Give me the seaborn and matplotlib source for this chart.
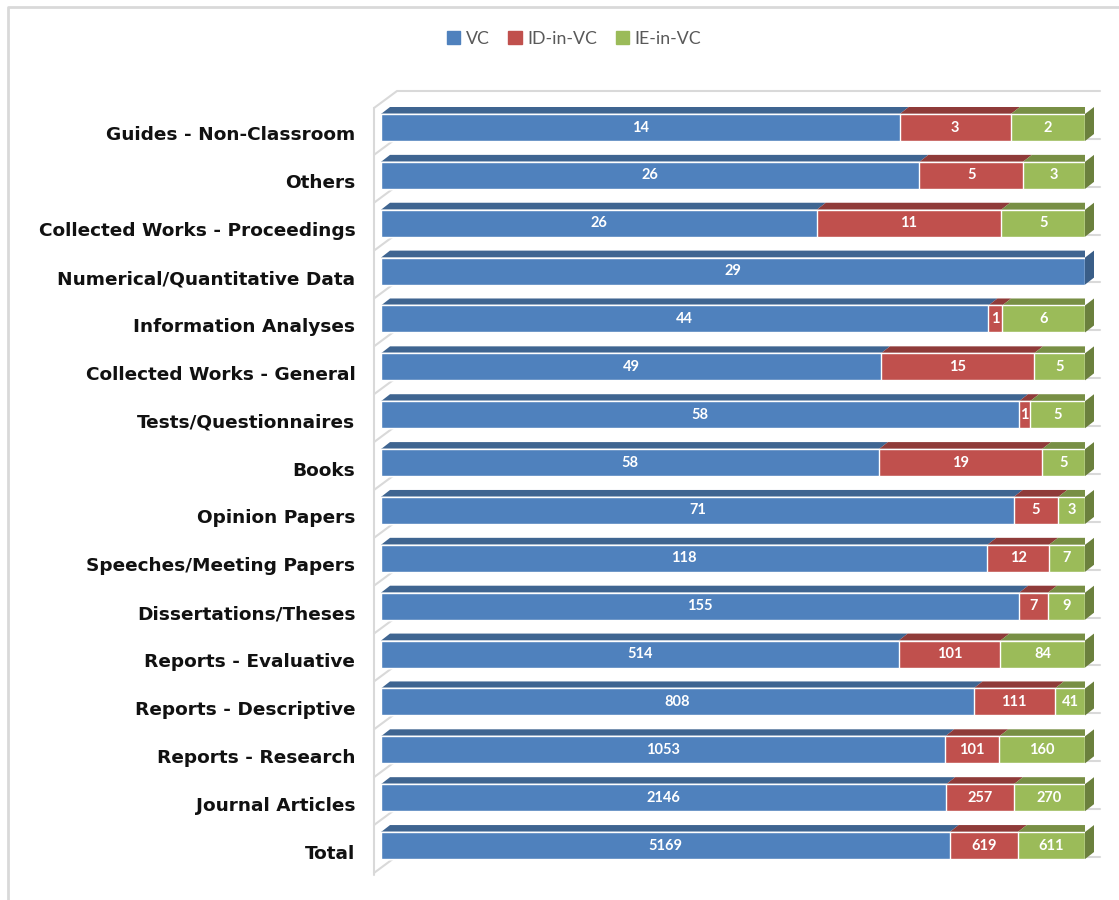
import matplotlib
matplotlib.use("Agg")
import matplotlib.pyplot as plt
from matplotlib.lines import Line2D
from matplotlib.patches import Patch
from matplotlib.transforms import ScaledTranslation
import numpy as np
import pandas as pd
import seaborn as sns

categories = ["Guides - Non-Classroom", "Others", "Collected Works - Proceedings",
              "Numerical/Quantitative Data", "Information Analyses",
              "Collected Works - General", "Tests/Questionnaires", "Books",
              "Opinion Papers", "Speeches/Meeting Papers", "Dissertations/Theses",
              "Reports - Evaluative", "Reports - Descriptive", "Reports - Research",
              "Journal Articles", "Total"]
vc = [14, 26, 26, 29, 44, 49, 58, 58, 71, 118, 155, 514, 808, 1053, 2146, 5169]
id_in_vc = [3, 5, 11, 0, 1, 15, 1, 19, 5, 12, 7, 101, 111, 101, 257, 619]
ie_in_vc = [2, 3, 5, 0, 6, 5, 5, 5, 3, 7, 9, 84, 41, 160, 270, 611]
series_names = ["VC", "ID-in-VC", "IE-in-VC"]
front_colors = ["#4F81BD", "#C0504D", "#9BBB59"]
top_colors = ["#3F6591", "#8F3B39", "#788F45"]
side_colors = ["#3A5E88", "#863735", "#6B803D"]

W, H = 1119, 900
GRID = "#D9D9D9"

def fx(px):
    return px / W

def fy(py):
    return 1 - py / H

def pixline(fig, xs, ys, lw=1.5):
    fig.add_artist(Line2D([fx(x) for x in xs], [fy(y) for y in ys], color=GRID, lw=lw, zorder=-1))

sns.set_style("white")
fig = plt.figure(figsize=(W / 100, H / 100), dpi=100)

# one band per category, 47.87 px high, front of the bars 381..1085
band = 47.87
ax_top = 127.5 - band / 2
ax = fig.add_axes([fx(381), fy(ax_top + band * len(categories)), fx(1085) - fx(381), band * len(categories) / H])
ax.patch.set_visible(False)

df = pd.DataFrame({"cat": categories, "vc": vc, "id": id_in_vc, "ie": ie_in_vc})
total = df["vc"] + df["id"] + df["ie"]
df["s1"] = df["vc"] / total * 100
df["s2"] = (df["vc"] + df["id"]) / total * 100
df["s3"] = (df["vc"] + df["id"] + df["ie"]) / total * 100

bar_h = 27 / band
dx = 9 / 704 * 100
dy = 7 / band

# chart frame and the walls behind the bars
pixline(fig, [8, 8, W], [H, 7, 7], lw=2)
pixline(fig, [374, 374], [108, 875])
pixline(fig, [374, 397, 1100], [108, 91, 91])
for k in range(1, len(categories) + 1):
    pixline(fig, [374, 397], [107 + band * k, 90 + band * k])
    pixline(fig, [1085, 1100], [91 + band * k, 91 + band * k])

# stacked by overlaying the cumulative shares, back to front
for col, color in zip(["s3", "s2", "s1"], front_colors[::-1]):
    sns.barplot(data=df, x=col, y="cat", color=color, saturation=1, width=bar_h, ax=ax, zorder=3)

ax.set_xlim(0, 100)
ax.set_ylim(len(categories) - 0.5, -0.5)

# 3d top and right side
for i in range(len(categories)):
    y0 = i - bar_h / 2
    y1 = i + bar_h / 2
    edges = [0, df["s1"][i], df["s2"][i], df["s3"][i]]
    for j in range(3):
        a, b = edges[j], edges[j + 1]
        if b - a <= 0:
            continue
        ax.fill([a, b, b + dx, a + dx], [y0, y0, y0 - dy, y0 - dy], color=top_colors[j], lw=0, zorder=2.5)
    last = [j for j in range(3) if edges[j + 1] - edges[j] > 0][-1]
    ax.fill([100, 100 + dx, 100 + dx, 100], [y0, y0 - dy, y1 - dy, y1], color=side_colors[last], lw=0,
            zorder=2.5, clip_on=False)
    for j, v in enumerate([vc[i], id_in_vc[i], ie_in_vc[i]]):
        if v > 0:
            ax.text((edges[j] + edges[j + 1]) / 2, i, str(v), color="white", family="Lato", weight="bold",
                    fontsize=10.5, ha="center", va="center", zorder=5)

for p in ax.collections:
    p.set_clip_on(False)

sns.despine(ax=ax, left=True, bottom=True)
ax.set_xlabel("")
ax.set_ylabel("")
ax.set_xticks([])
ax.tick_params(axis="y", length=0, pad=18.5)
shift = ScaledTranslation(0, -6 / 100, fig.dpi_scale_trans)
for lab in ax.get_yticklabels():
    lab.set_fontfamily("DejaVu Sans")
    lab.set_fontweight("bold")
    lab.set_fontsize(13.3)
    lab.set_color("#111111")
    lab.set_transform(lab.get_transform() + shift)

handles = [Patch(color=c, label=n) for c, n in zip(front_colors, series_names)]
fig.legend(handles=handles, loc="center", bbox_to_anchor=(fx(574), fy(39)), ncol=3, frameon=False,
           prop={"family": "Lato", "size": 12.8}, labelcolor="#595959", handlelength=0.75, handleheight=0.75,
           handletextpad=0.3, columnspacing=1.05)

fig.savefig("out.png", dpi=100)
